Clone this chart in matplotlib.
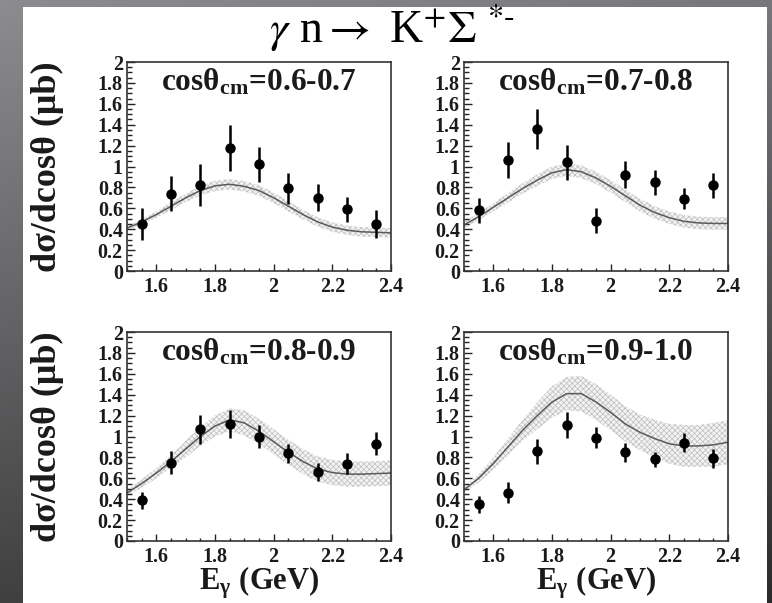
import numpy as np
import matplotlib.pyplot as plt
from matplotlib.ticker import MultipleLocator, FormatStrFormatter
from matplotlib.patches import Rectangle

plt.rcParams['font.family'] = ['Liberation Serif', 'DejaVu Serif']
plt.rcParams['mathtext.fontset'] = 'stix'
plt.rcParams['hatch.linewidth'] = 0.5

# photon energy bins (GeV)
energy = [1.55, 1.65, 1.75, 1.85, 1.95, 2.05, 2.15, 2.25, 2.35]

# measured dsigma/dcos (ub) with errors, one list per angle bin
xsec_06 = [0.45, 0.74, 0.82, 1.18, 1.02, 0.79, 0.70, 0.59, 0.45]
err_06 = [0.15, 0.17, 0.20, 0.22, 0.17, 0.15, 0.13, 0.12, 0.13]
xsec_07 = [0.58, 1.06, 1.36, 1.04, 0.48, 0.92, 0.85, 0.69, 0.82]
err_07 = [0.12, 0.17, 0.19, 0.17, 0.12, 0.13, 0.12, 0.10, 0.12]
xsec_08 = [0.39, 0.75, 1.07, 1.12, 1.00, 0.84, 0.66, 0.74, 0.93]
err_08 = [0.08, 0.11, 0.14, 0.13, 0.11, 0.09, 0.09, 0.10, 0.11]
xsec_09 = [0.35, 0.46, 0.86, 1.11, 0.99, 0.85, 0.78, 0.94, 0.79]
err_09 = [0.08, 0.10, 0.12, 0.12, 0.10, 0.09, 0.07, 0.09, 0.09]

# model curves and their uncertainty (half width) on a fixed energy grid
e_model = [1.50, 1.55, 1.60, 1.65, 1.70, 1.75, 1.80, 1.85, 1.90, 1.95,
           2.00, 2.05, 2.10, 2.15, 2.20, 2.25, 2.30, 2.35, 2.40]
model_06 = [0.41, 0.47, 0.54, 0.62, 0.70, 0.77, 0.815, 0.83, 0.81, 0.77,
            0.70, 0.62, 0.54, 0.47, 0.42, 0.39, 0.375, 0.37, 0.365]
band_06 = [0.02, 0.025, 0.03, 0.035, 0.04, 0.045, 0.05, 0.05, 0.05, 0.05,
           0.05, 0.05, 0.045, 0.045, 0.045, 0.045, 0.045, 0.045, 0.045]
model_07 = [0.44, 0.52, 0.61, 0.70, 0.79, 0.87, 0.94, 0.97, 0.95, 0.89,
            0.81, 0.72, 0.63, 0.56, 0.51, 0.475, 0.46, 0.455, 0.455]
band_07 = [0.03, 0.035, 0.04, 0.045, 0.05, 0.055, 0.06, 0.06, 0.06, 0.06,
           0.06, 0.06, 0.06, 0.06, 0.06, 0.06, 0.06, 0.06, 0.06]
model_08 = [0.46, 0.55, 0.65, 0.76, 0.88, 1.00, 1.10, 1.16, 1.13, 1.05,
            0.95, 0.85, 0.76, 0.69, 0.655, 0.64, 0.64, 0.645, 0.65]
band_08 = [0.03, 0.04, 0.05, 0.06, 0.08, 0.09, 0.10, 0.11, 0.12, 0.12,
           0.12, 0.12, 0.12, 0.12, 0.12, 0.12, 0.12, 0.12, 0.12]
model_09 = [0.49, 0.60, 0.74, 0.90, 1.06, 1.20, 1.33, 1.41, 1.41, 1.33,
            1.23, 1.12, 1.04, 0.98, 0.93, 0.91, 0.91, 0.92, 0.945]
band_09 = [0.03, 0.04, 0.06, 0.08, 0.10, 0.13, 0.15, 0.16, 0.17, 0.17,
           0.17, 0.17, 0.17, 0.18, 0.19, 0.20, 0.20, 0.21, 0.21]

bin_labels = ['0.6-0.7', '0.7-0.8', '0.8-0.9', '0.9-1.0']

panels = [
    (xsec_06, err_06, model_06, band_06),
    (xsec_07, err_07, model_07, band_07),
    (xsec_08, err_08, model_08, band_08),
    (xsec_09, err_09, model_09, band_09),
]

W, H = 772, 603
fig = plt.figure(figsize=(W / 100, H / 100), dpi=100)

# slide background: dark gray gradient with a white sheet on top
bg = fig.add_axes([0, 0, 1, 1])
yy, xx = np.mgrid[0:1:200j, 0:1:200j]
shade = 0.55 - 0.30 * yy - 0.08 * xx
bg.imshow(np.dstack([shade, shade, shade * 1.02]).clip(0, 1),
          extent=[0, 1, 0, 1], aspect='auto', origin='upper')
bg.add_patch(Rectangle((23 / W, 0), (767 - 23) / W, (H - 7) / H,
                       facecolor='white', edgecolor='none'))
bg.set_xlim(0, 1)
bg.set_ylim(0, 1)
bg.axis('off')

# axes frames in pixels: left, top, right, bottom
frames = [(127, 62, 391, 271), (464, 62, 728, 271),
          (127, 332, 391, 541), (464, 332, 728, 541)]

tick_font = dict(family='Liberation Serif', weight='bold', size=14.5)
ink = '#1a1a1a'

for i, ((l, t, r, b), (xs, er, mod, band)) in enumerate(zip(frames, panels)):
    ax = fig.add_axes([l / W, 1 - b / H, (r - l) / W, (b - t) / H])
    mod = np.array(mod)
    band = np.array(band)
    ax.fill_between(e_model, mod - band, mod + band, facecolor='#f3f3f3',
                    edgecolor='#bdbdbd', hatch='xxxxxx', linewidth=0, zorder=1)
    ax.plot(e_model, mod, color='#5a5a5a', lw=1.1, zorder=2)
    ax.errorbar(energy, xs, yerr=er, fmt='o', color='black', ms=6.5,
                elinewidth=1.8, capsize=0, zorder=3)

    ax.set_xlim(1.5, 2.4)
    ax.set_ylim(0, 2)
    ax.xaxis.set_major_locator(MultipleLocator(0.2))
    ax.xaxis.set_minor_locator(MultipleLocator(0.05))
    ax.yaxis.set_major_locator(MultipleLocator(0.2))
    ax.yaxis.set_minor_locator(MultipleLocator(0.05))
    ax.xaxis.set_major_formatter(FormatStrFormatter('%g'))
    ax.yaxis.set_major_formatter(FormatStrFormatter('%g'))
    ax.tick_params(which='both', direction='in', top=False, right=False,
                   color='#222222', width=1.0)
    ax.tick_params(axis='x', which='major', length=5, pad=4)
    ax.tick_params(axis='x', which='minor', length=2.5)
    ax.tick_params(axis='y', which='major', length=6, pad=3)
    ax.tick_params(axis='y', which='minor', length=3.5)
    for lab in ax.get_xticklabels() + ax.get_yticklabels():
        lab.set_fontproperties(tick_font)
        lab.set_color(ink)
    for sp in ax.spines.values():
        sp.set_linewidth(1.2)
        sp.set_color('#333333')

    ax.text(0.5, 0.975, 'cosθ$_{\\mathregular{cm}}$=' + bin_labels[i],
            transform=ax.transAxes, ha='center', va='top',
            fontsize=22.5, fontweight='bold', color=ink)

    if i % 2 == 0:
        fig.text(47 / W, 1 - (t + b) / 2 / H, 'dσ/dcosθ (μb)', rotation=90,
                 ha='center', va='center', fontsize=26, fontweight='bold',
                 color=ink)
    if i >= 2:
        fig.text((l + r) / 2 / W, 1 - 565 / H, 'E$_{\\mathregular{γ}}$ (GeV)',
                 ha='center', va='top', fontsize=22, fontweight='bold',
                 color=ink)

fig.text(392 / W, 1 - 28 / H,
         r'$\gamma$ n$\rightarrow$ K$^{+}\Sigma\ ^{\text{*-}}$',
         ha='center', va='center', fontsize=33, color='black')

fig.savefig('out.png', dpi=100)
